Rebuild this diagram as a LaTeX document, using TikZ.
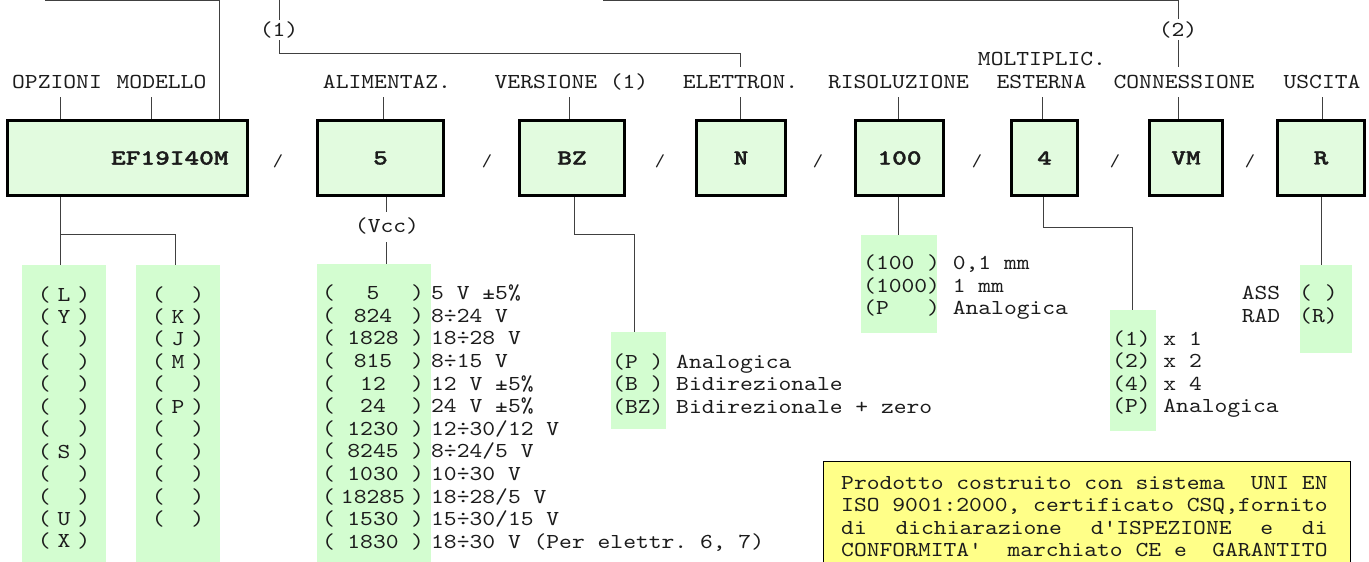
\documentclass[tikz,border=0pt]{standalone}
\usepackage{fontspec}
\setmonofont{lmmono10-regular.otf}[FakeStretch=1.145]
\newfontfamily\boxfont{lmmonolt10-bold.otf}[FakeStretch=1.3, FakeBold=1.6]
\definecolor{boxg}{HTML}{E2FBDF}
\definecolor{listg}{HTML}{D3FDD0}
\definecolor{yel}{HTML}{FFFF88}
\definecolor{ink}{HTML}{1C1C1C}
\definecolor{wire}{HTML}{404040}
\newcommand\optrow[1]{(\kern7pt\makebox[12.8pt]{#1}\kern7pt)}
\newcommand\voltrow[2]{(\makebox[76pt]{#1})\kern7.4pt #2}
\begin{document}
\begin{tikzpicture}[x=1pt,y=-1pt,
  txt/.style={font=\ttfamily\fontsize{21.3}{22.5}\selectfont, inner sep=0pt, text=ink},
  lbl/.style={txt, anchor=base},
  rowtxt/.style={txt, anchor=base west},
  codebox/.style={draw=black, line width=3.2pt, fill=boxg, inner sep=0pt, minimum height=75pt,
    font=\boxfont\fontsize{21.5}{23}\selectfont, text=ink},
  slash/.style={font=\ttfamily\fontsize{17}{19}\selectfont, text=ink, inner sep=0pt},
  listbg/.style={fill=listg, draw=none, inner sep=0pt},
  conn/.style={draw=wire, line width=1pt},
]
\useasboundingbox (0,0) rectangle (1369,562);
\fill[white] (0,0) rectangle (1369,562);

% ---- code boxes
\node[codebox, minimum width=240pt, text width=202pt, align=right] (b1) at (127.5,158) {EF19I40M};
\node[codebox, minimum width=126pt] (b2) at (380.5,158) {5};
\node[codebox, minimum width=105pt] (b3) at (572,158) {BZ};
\node[codebox, minimum width=89pt] (b4) at (741,158) {N};
\node[codebox, minimum width=88pt] (b5) at (899.5,158) {100};
\node[codebox, minimum width=66pt] (b6) at (1044.5,158) {4};
\node[codebox, minimum width=73pt] (b7) at (1186,158) {VM};
\node[codebox, minimum width=87pt] (b8) at (1321,158) {R};

% ---- slashes
\node[slash] (s1) at (278,161) {/};
\node[slash] (s2) at (487,161) {/};
\node[slash] (s3) at (660,161) {/};
\node[slash] (s4) at (818,161) {/};
\node[slash] (s5) at (977,161) {/};
\node[slash] (s6) at (1115,161) {/};
\node[slash] (s7) at (1250,161) {/};

% ---- labels
\node[lbl] (lOpz) at (57,88.6) {OPZIONI};
\node[lbl] (lMod) at (161.5,88.6) {MODELLO};
\node[lbl] (lAli) at (387,88.6) {ALIMENTAZ.};
\node[lbl] (lVer) at (571.5,88.6) {VERSIONE (1)};
\node[lbl] (lEle) at (740.5,88.6) {ELETTRON.};
\node[lbl] (lRis) at (898.5,88.6) {RISOLUZIONE};
\node[lbl] (lMol) at (1042,65.3) {MOLTIPLIC.};
\node[lbl] (lEst) at (1041.5,88.6) {ESTERNA};
\node[lbl] (lCon) at (1184,88.6) {CONNESSIONE};
\node[lbl] (lUsc) at (1322,88.6) {USCITA};

% ---- ticks label -> box
\coordinate (tOpz) at (60,97);
\coordinate (tMod) at (151,97);
\coordinate (tAli) at (383,97);
\coordinate (tVer) at (569,97);
\coordinate (tEle) at (740,97);
\coordinate (tRis) at (898,97);
\coordinate (tEst) at (1042,97);
\coordinate (tCon) at (1178,97);
\coordinate (tUsc) at (1322,97);
\draw[conn] (tOpz) -- (tOpz |- b1.north);
\draw[conn] (tMod) -- (tMod |- b1.north);
\draw[conn] (tAli) -- (tAli |- b2.north);
\draw[conn] (tVer) -- (tVer |- b3.north);
\draw[conn] (tEle) -- (tEle |- b4.north);
\draw[conn] (tRis) -- (tRis |- b5.north);
\draw[conn] (tEst) -- (tEst |- b6.north);
\draw[conn] (tCon) -- (tCon |- b7.north);
\draw[conn] (tUsc) -- (tUsc |- b8.north);

% ---- top brackets
\coordinate (topA) at (45,0.5);
\coordinate (topB) at (219,0.5);
\draw[conn] (topA) -- (topB) -- (topB |- b1.north);

\node[lbl, inner ysep=2pt] (n1) at (279,36.5) {(1)};
\coordinate (n1top) at (279,0);
\coordinate (c53) at (0,53);
\coordinate (e1) at (740,67);
\draw[conn] (n1top) -- (n1.north);
\draw[conn] (n1.south) -- (n1.south |- c53) -| (e1);

\node[lbl, inner ysep=2pt] (n2) at (1178,36) {(2)};
\coordinate (topC) at (603,0.5);
\coordinate (topD) at (1178,0.5);
\coordinate (e2) at (1178,67);
\draw[conn] (topC) -- (topD) -- (n2.north);
\draw[conn] (n2.south) -- (e2);

% ---- lists backgrounds
\node[listbg, minimum width=84pt, minimum height=297pt] (L1) at (64,413.5) {};
\node[listbg, minimum width=84pt, minimum height=297pt] (L2) at (178,413.5) {};
\node[listbg, minimum width=114pt, minimum height=298pt] (LV) at (374,413) {};
\node[listbg, minimum width=55pt, minimum height=97pt] (LB) at (638.5,380.5) {};
\node[listbg, minimum width=76pt, minimum height=98pt] (LR) at (899,284) {};
\node[listbg, minimum width=46pt, minimum height=121pt] (LM) at (1133,370.5) {};
\node[listbg, minimum width=52pt, minimum height=88pt] (LU) at (1326,309) {};

% ---- connectors below boxes
\coordinate (j1) at (60,234);
\coordinate (j2) at (175,234);
\draw[conn] (j1 |- b1.south) -- (j1 |- L1.north);
\draw[conn] (j1) -- (j2) -- (j2 |- L2.north);

\node[lbl] (vcc) at (387,232) {(Vcc)};
\coordinate (vx) at (386,212);
\coordinate (vy) at (386,242);
\draw[conn] (vx |- b2.south) -- (vx);
\draw[conn] (vy) -- (vy |- LV.north);

\coordinate (k1) at (574,234);
\coordinate (k2) at (634,234);
\draw[conn] (k1 |- b3.south) -- (k1) -- (k2) -- (k2 |- LB.north);

\coordinate (r1) at (898,210);
\draw[conn] (r1 |- b5.south) -- (r1 |- LR.north);

\coordinate (m1) at (1043,227);
\coordinate (m2) at (1132,227);
\draw[conn] (m1 |- b6.south) -- (m1) -- (m2) -- (m2 |- LM.north);

\coordinate (u1) at (1321,230);
\draw[conn] (u1 |- b8.south) -- (u1 |- LU.north);

% ---- OPZIONI lists
\foreach \t [count=\i from 0] in {L,Y,{},{},{},{},{},S,{},{},U,X}
  \node[lbl] (oa\i) at (64,{301+22.45*\i}) {\optrow{\t}};
\foreach \t [count=\i from 0] in {{},K,J,M,{},P,{},{},{},{},{}}
  \node[lbl] (ob\i) at (178,{301+22.45*\i}) {\optrow{\t}};

% ---- voltage list
\node[rowtxt] (v0) at (322,299.4) {\voltrow{5}{5 V ±5\%}};
\node[rowtxt] (v1) at (322,322.0) {\voltrow{824}{8÷24 V}};
\node[rowtxt] (v2) at (322,344.7) {\voltrow{1828}{18÷28 V}};
\node[rowtxt] (v3) at (322,367.3) {\voltrow{815}{8÷15 V}};
\node[rowtxt] (v4) at (322,390.0) {\voltrow{12}{12 V ±5\%}};
\node[rowtxt] (v5) at (322,412.6) {\voltrow{24}{24 V ±5\%}};
\node[rowtxt] (v6) at (322,435.2) {\voltrow{1230}{12÷30/12 V}};
\node[rowtxt] (v7) at (322,457.9) {\voltrow{8245}{8÷24/5 V}};
\node[rowtxt] (v8) at (322,480.5) {\voltrow{1030}{10÷30 V}};
\node[rowtxt] (v9) at (322,503.2) {\voltrow{18285}{18÷28/5 V}};
\node[rowtxt] (v10) at (322,525.8) {\voltrow{1530}{15÷30/15 V}};
\node[rowtxt] (v11) at (322,548.4) {\voltrow{1830}{18÷30 V (Per elettr. 6, 7)}};

% ---- versione list
\node[rowtxt] (ve0) at (612,368.3) {(P ) Analogica};
\node[rowtxt] (ve1) at (612,390.8) {(B ) Bidirezionale};
\node[rowtxt] (ve2) at (612,413.3) {(BZ) Bidirezionale + zero};

% ---- risoluzione list
\node[rowtxt] (re0) at (863,269.5) {(100~) 0,1 mm};
\node[rowtxt] (re1) at (863,292.0) {(1000) 1 mm};
\node[rowtxt] (re2) at (863,314.5) {(P~~~) Analogica};

% ---- moltiplicatore list
\node[rowtxt] (mu0) at (1112,345.5) {(1) x 1};
\node[rowtxt] (mu1) at (1112,367.9) {(2) x 2};
\node[rowtxt] (mu2) at (1112,390.3) {(4) x 4};
\node[rowtxt] (mu3) at (1112,412.7) {(P) Analogica};

% ---- uscita list
\node[rowtxt] (us0) at (1299,299.4) {(~)};
\node[rowtxt] (us1) at (1299,322.4) {(R)};
\node[rowtxt] (ua0) at (1241.6,299.4) {ASS};
\node[rowtxt] (ua1) at (1241.6,322.4) {RAD};

% ---- note box
\fill[yel] (823,461) rectangle (1350,562);
\draw[line width=1pt, black] (823,562) -- (823,461) -- (1350,461) -- (1350,562);
\node[rowtxt] (y1) at (841,489) {\makebox[486.4pt][l]{Prodotto costruito con sistema\hfill\ UNI EN}};
\node[rowtxt] (y2) at (841,511.5) {\makebox[486.4pt][l]{ISO 9001:2000, certificato CSQ,fornito}};
\node[rowtxt] (y3) at (841,534) {\makebox[486.4pt][l]{di\hfill\ dichiarazione\hfill\ d'ISPEZIONE\hfill\ e\hfill\ di}};
\node[rowtxt] (y4) at (841,556.5) {\makebox[486.4pt][l]{CONFORMITA'\hfill\ marchiato CE e\hfill\ GARANTITO}};
\end{tikzpicture}
\end{document}
